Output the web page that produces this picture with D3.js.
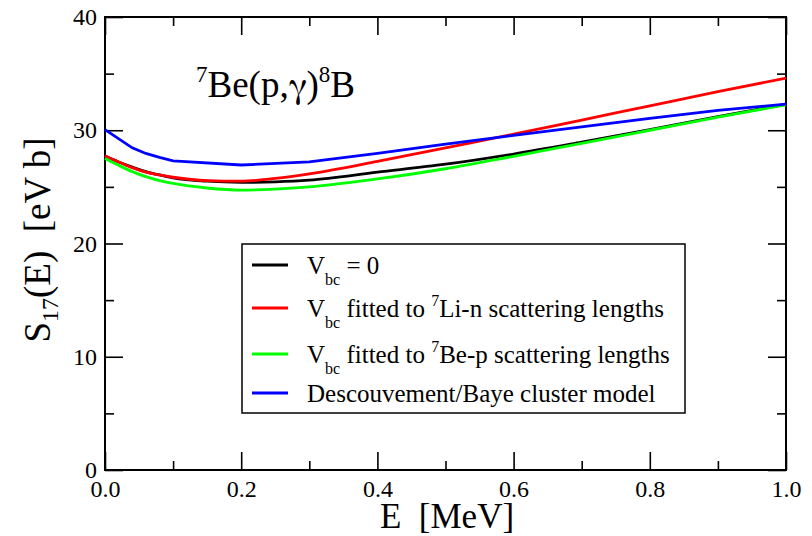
<!DOCTYPE html>
<html>
<head>
<meta charset="utf-8">
<script src="https://cdn.jsdelivr.net/npm/d3@7"></script>
<style>
  body { margin: 0; background: #fff; }
  text { font-family: "Liberation Serif", "Times New Roman", serif; fill: #000; }
</style>
</head>
<body>
<svg width="812" height="536"></svg>
<script>
// energies [MeV] for the potential-model curves
var energy = [0, 0.02, 0.04, 0.06, 0.08, 0.1, 0.15, 0.2, 0.25, 0.3, 0.4, 0.5, 0.6, 0.7, 0.8, 0.9, 1.0];
var sNoVbc = [27.7, 27.2, 26.75, 26.35, 26.05, 25.8, 25.5, 25.4, 25.45, 25.6, 26.3, 27.0, 27.9, 28.95, 30.05, 31.2, 32.3];
var sLiN   = [27.75, 27.2, 26.7, 26.3, 26.05, 25.85, 25.55, 25.5, 25.75, 26.15, 27.25, 28.45, 29.65, 30.9, 32.15, 33.4, 34.6];
var sBeP   = [27.5, 26.9, 26.35, 25.9, 25.55, 25.3, 24.9, 24.72, 24.8, 25.0, 25.7, 26.6, 27.7, 28.85, 30.0, 31.15, 32.25];

// cluster model is given on a coarser grid
var energyCluster = [0, 0.04, 0.06, 0.08, 0.1, 0.2, 0.3, 0.4, 0.5, 0.6, 0.7, 0.8, 0.9, 1.0];
var sCluster = [30.05, 28.45, 27.95, 27.6, 27.3, 26.93, 27.2, 27.95, 28.77, 29.55, 30.3, 31.05, 31.75, 32.3];

var xMajor = [0, 0.2, 0.4, 0.6, 0.8, 1.0];
var xMinor = [0.1, 0.3, 0.5, 0.7, 0.9];
var yMajor = [0, 10, 20, 30, 40];
var yMinor = [5, 15, 25, 35];

(function () {

    var svg = d3.select("svg"),
        left = 105, right = 786, top = 17, bottom = 470;

    var x = d3.scaleLinear().domain([0, 1]).range([left, right]);
    var y = d3.scaleLinear().domain([0, 40]).range([bottom, top]);

    var series = [
        {name: "nov", xs: energy, ys: sNoVbc, color: "#000000", curve: d3.curveMonotoneX},
        {name: "lin", xs: energy, ys: sLiN, color: "#ff0000", curve: d3.curveMonotoneX},
        {name: "bep", xs: energy, ys: sBeP, color: "#00ff00", curve: d3.curveMonotoneX},
        {name: "clu", xs: energyCluster, ys: sCluster, color: "#0000ff", curve: d3.curveLinear}
    ];

    // axes: ticks point inward on all four sides
    function styleAxis(g) {
        g.attr("font-family", "'Liberation Serif', serif").attr("font-size", 24);
        g.select(".domain").remove();
        g.selectAll(".tick line").attr("stroke", "#000").attr("stroke-width", 1.6);
        g.selectAll(".tick text").attr("fill", "#000");
    }

    svg.append("g").attr("transform", "translate(0," + bottom + ")")
        .call(d3.axisBottom(x).tickValues(xMajor).tickSize(-18).tickPadding(10).tickFormat(d3.format(".1f")))
        .call(styleAxis);
    svg.append("g").attr("transform", "translate(0," + bottom + ")")
        .call(d3.axisBottom(x).tickValues(xMinor).tickSize(-9).tickFormat(""))
        .call(styleAxis);
    svg.append("g").attr("transform", "translate(0," + top + ")")
        .call(d3.axisTop(x).tickValues(xMajor).tickSize(-18).tickFormat(""))
        .call(styleAxis);
    svg.append("g").attr("transform", "translate(0," + top + ")")
        .call(d3.axisTop(x).tickValues(xMinor).tickSize(-9).tickFormat(""))
        .call(styleAxis);

    svg.append("g").attr("transform", "translate(" + left + ",0)")
        .call(d3.axisLeft(y).tickValues(yMajor).tickSize(-18).tickPadding(8).tickFormat(d3.format("d")))
        .call(styleAxis);
    svg.append("g").attr("transform", "translate(" + left + ",0)")
        .call(d3.axisLeft(y).tickValues(yMinor).tickSize(-9).tickFormat(""))
        .call(styleAxis);
    svg.append("g").attr("transform", "translate(" + right + ",0)")
        .call(d3.axisRight(y).tickValues(yMajor).tickSize(-18).tickFormat(""))
        .call(styleAxis);
    svg.append("g").attr("transform", "translate(" + right + ",0)")
        .call(d3.axisRight(y).tickValues(yMinor).tickSize(-9).tickFormat(""))
        .call(styleAxis);

    svg.append("rect")
        .attr("x", left).attr("y", top)
        .attr("width", right - left).attr("height", bottom - top)
        .attr("fill", "none").attr("stroke", "#000").attr("stroke-width", 2);

    // curves
    series.forEach(function (s) {
        var pts = s.xs.map(function (e, i) { return [e, s.ys[i]]; });
        svg.append("path")
            .datum(pts)
            .attr("fill", "none")
            .attr("stroke", s.color)
            .attr("stroke-width", 2.8)
            .attr("d", d3.line().curve(s.curve)
                .x(function (d) { return x(d[0]); })
                .y(function (d) { return y(d[1]); }));
    });

    // reaction label (gamma from FreeSerif for the looped glyph)
    var title = svg.append("text").attr("x", 196).attr("y", 97).style("font-size", "37px");
    title.append("tspan").text("7").style("font-size", "23px").attr("dy", -15);
    title.append("tspan").text("Be(p,").attr("dy", 15);
    title.append("tspan").text("\u03b3").style("font-family", "FreeSerif, 'Liberation Serif', serif");
    title.append("tspan").text(")");
    title.append("tspan").text("8").style("font-size", "23px").attr("dy", -15);
    title.append("tspan").text("B").attr("dy", 15);

    // axis titles
    svg.append("text").attr("x", 447).attr("y", 528)
        .attr("text-anchor", "middle").style("font-size", "35px")
        .text("E\u00a0\u00a0[MeV]");

    var yt = svg.append("text").attr("transform", "translate(50,240) rotate(-90)")
        .attr("text-anchor", "middle").style("font-size", "37px");
    yt.append("tspan").text("S");
    yt.append("tspan").text("17").style("font-size", "24px").attr("dy", 8);
    yt.append("tspan").text("(E)\u00a0\u00a0[eV b]").attr("dy", -8);

    // legend
    var legend = svg.append("g");
    legend.append("rect")
        .attr("x", 242).attr("y", 244).attr("width", 443).attr("height", 169)
        .attr("fill", "#fff").attr("stroke", "#000").attr("stroke-width", 1.5);

    var entries = [
        {color: "#000000", ly: 265, parts: [["V", 0], ["bc", 1], [" = 0", 0]]},
        {color: "#ff0000", ly: 308, parts: [["V", 0], ["bc", 1], [" fitted to ", 0], ["7", 2], ["Li-n scattering lengths", 0]]},
        {color: "#00ff00", ly: 354, parts: [["V", 0], ["bc", 1], [" fitted to ", 0], ["7", 2], ["Be-p scattering lengths", 0]]},
        {color: "#0000ff", ly: 393, parts: [["Descouvement/Baye cluster model", 0]]}
    ];

    entries.forEach(function (en) {
        legend.append("line")
            .attr("x1", 252).attr("x2", 288)
            .attr("y1", en.ly).attr("y2", en.ly)
            .attr("stroke", en.color).attr("stroke-width", 2.8);
        var t = legend.append("text").attr("x", 307).attr("y", en.ly + 9)
            .style("font-size", "25px");
        var shift = 0;
        en.parts.forEach(function (p) {
            var target = p[1] === 1 ? 11 : p[1] === 2 ? -11 : 0;
            t.append("tspan")
                .text(p[0].replace(/ /g, "\u00a0"))
                .style("font-size", p[1] ? "16px" : "25px")
                .attr("dy", target - shift);
            shift = target;
        });
    });

})();
</script>
</body>
</html>
